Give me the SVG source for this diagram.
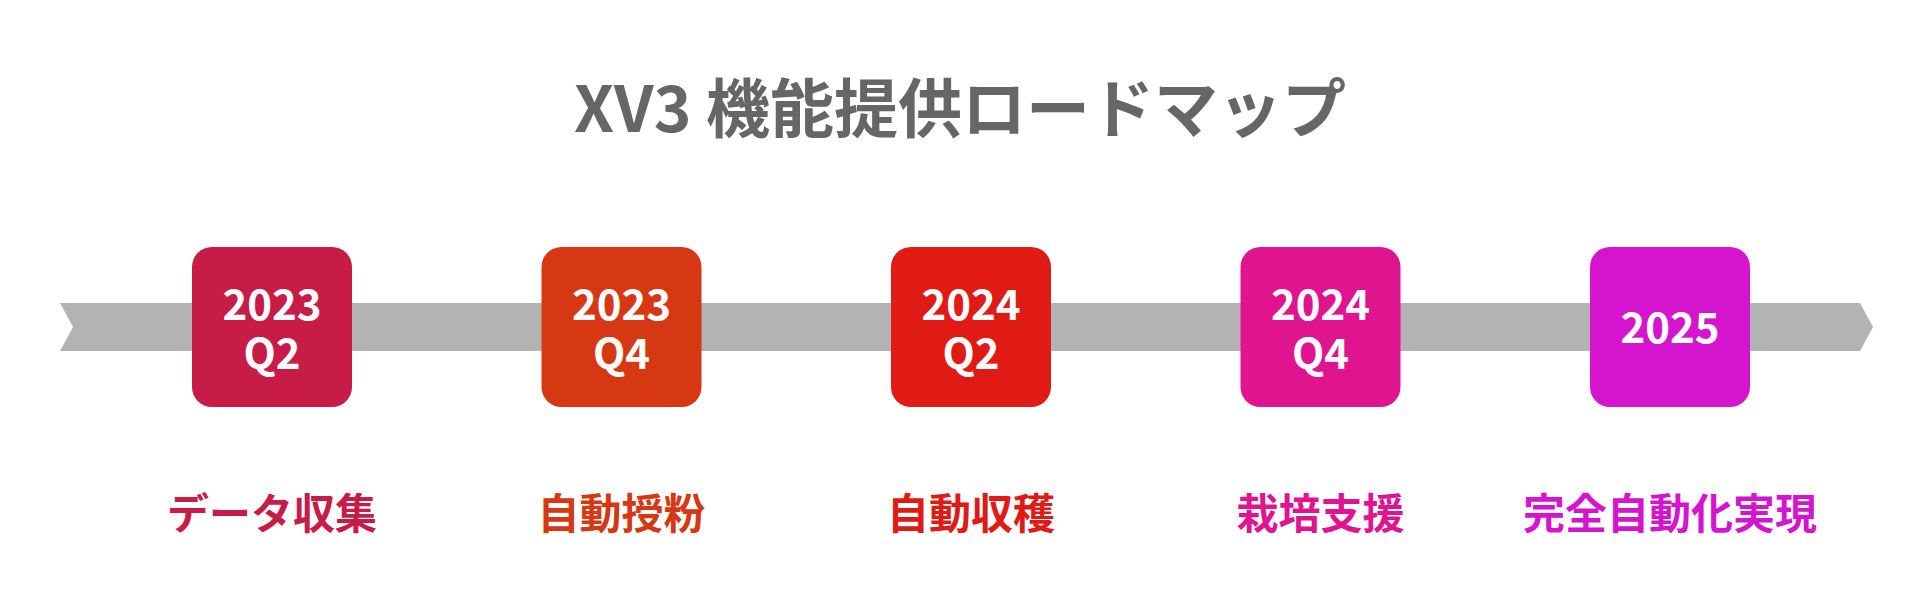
<svg xmlns="http://www.w3.org/2000/svg" width="1920" height="600" viewBox="0 0 1920 600">
<style>
.t{font-family:"Noto Sans CJK JP","Noto Sans",sans-serif;font-weight:bold;text-anchor:middle}
.title{font-size:64px;fill:#666666}
.bx{font-size:42px;fill:#ffffff}
.lb{font-size:42px}
</style>
<rect width="1920" height="600" fill="#ffffff"/>
<text class="t title" x="960" y="132">XV3 機能提供ロードマップ</text>
<g id="connectors">
<polygon points="60,303 1860,303 1873,327 1860,351 60,351 73,327" fill="#B3B3B3"/>
</g>
<g id="n1">
<rect x="192" y="247" width="160" height="160" rx="20" fill="#C71B48"/>
<text class="t bx"><tspan x="272" y="320">2023</tspan><tspan x="272" y="369">Q2</tspan></text>
<text class="t lb" x="272" y="529" fill="#C71B48">データ収集</text>
</g>
<g id="n2">
<rect x="541.5" y="247" width="160" height="160" rx="20" fill="#D63814"/>
<text class="t bx"><tspan x="621.5" y="320">2023</tspan><tspan x="621.5" y="369">Q4</tspan></text>
<text class="t lb" x="621.5" y="529" fill="#D63814">自動授粉</text>
</g>
<g id="n3">
<rect x="891" y="247" width="160" height="160" rx="20" fill="#E01B16"/>
<text class="t bx"><tspan x="971" y="320">2024</tspan><tspan x="971" y="369">Q2</tspan></text>
<text class="t lb" x="971" y="529" fill="#E01B16">自動収穫</text>
</g>
<g id="n4">
<rect x="1240.5" y="247" width="160" height="160" rx="20" fill="#E0148F"/>
<text class="t bx"><tspan x="1320.5" y="320">2024</tspan><tspan x="1320.5" y="369">Q4</tspan></text>
<text class="t lb" x="1320.5" y="529" fill="#E0148F">栽培支援</text>
</g>
<g id="n5">
<rect x="1590" y="247" width="160" height="160" rx="20" fill="#D514CD"/>
<text class="t bx" x="1670" y="343">2025</text>
<text class="t lb" x="1670" y="529" fill="#D514CD">完全自動化実現</text>
</g>
</svg>
